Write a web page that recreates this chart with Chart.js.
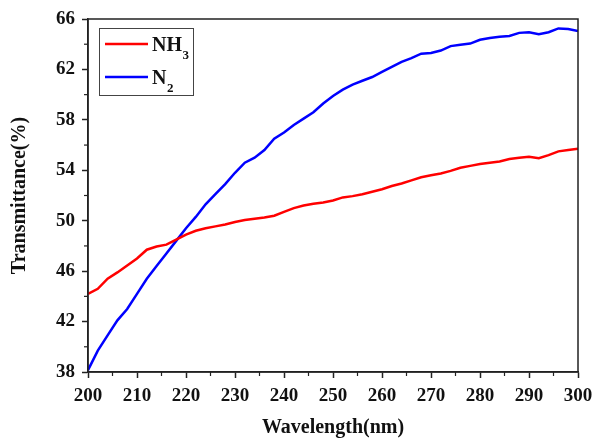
<!DOCTYPE html>
<html><head><meta charset="utf-8">
<script src="https://cdn.jsdelivr.net/npm/chart.js@4/dist/chart.umd.min.js"></script>
<style>html,body{margin:0;padding:0;background:#fff;}#wrap{width:595px;height:438px;}</style>
</head><body><div id="wrap"><canvas id="c" width="595" height="438"></canvas></div>
<script>
const wavelengths = [200,202,204,206,208,210,212,214,216,218,220,222,224,226,228,230,232,234,236,238,240,242,244,246,248,250,252,254,256,258,260,262,264,266,268,270,272,274,276,278,280,282,284,286,288,290,292,294,296,298,300];
const nh3 = [44.2,44.6,45.4,45.9,46.45,47.0,47.7,47.95,48.1,48.5,48.9,49.2,49.4,49.55,49.7,49.9,50.05,50.15,50.25,50.4,50.7,51.0,51.2,51.35,51.45,51.6,51.85,51.95,52.1,52.3,52.5,52.75,52.95,53.2,53.45,53.6,53.75,53.95,54.2,54.35,54.5,54.6,54.7,54.9,55.0,55.07,54.95,55.2,55.5,55.6,55.7];
const n2 = [38.15,39.7,40.9,42.1,43.0,44.2,45.4,46.4,47.4,48.4,49.4,50.3,51.3,52.1,52.9,53.8,54.6,55.0,55.6,56.5,57.0,57.6,58.1,58.6,59.3,59.9,60.4,60.8,61.1,61.4,61.8,62.2,62.6,62.9,63.25,63.3,63.5,63.85,63.95,64.05,64.35,64.5,64.6,64.65,64.9,64.95,64.8,64.95,65.25,65.2,65.05];
const seriesLabels = ['NH3','N2'];
const xTicks = [200,210,220,230,240,250,260,270,280,290,300];
const xMinor = [205,215,225,235,245,255,265,275,285,295];
const yTicks = [38,42,46,50,54,58,62,66];
const yMinor = [40,44,48,52,56,60,64];

const SERIF = '"Liberation Serif","Times New Roman",serif';
const AX = '#222';

const framePlugin = {
  id: 'frameAndLegend',
  afterDraw(chart) {
    const {ctx, chartArea: {left, right, top, bottom}, scales: {x, y}} = chart;
    ctx.save();
    ctx.strokeStyle = AX; ctx.lineWidth = 1.5;
    ctx.strokeRect(left, top, right - left, bottom - top);
    ctx.lineWidth = 1.2;
    xMinor.forEach(v => { const px = x.getPixelForValue(v); ctx.beginPath(); ctx.moveTo(px, bottom); ctx.lineTo(px, bottom + 4); ctx.stroke(); });
    yMinor.forEach(v => { const py = y.getPixelForValue(v); ctx.beginPath(); ctx.moveTo(left, py); ctx.lineTo(left - 4, py); ctx.stroke(); });
    // legend
    ctx.strokeStyle = '#444'; ctx.lineWidth = 1;
    ctx.strokeRect(99.5, 28.5, 94, 67);
    const rowsY = [44, 77];
    chart.data.datasets.forEach((ds, i) => {
      const yy = rowsY[i];
      ctx.strokeStyle = ds.borderColor; ctx.lineWidth = 2.5;
      ctx.beginPath(); ctx.moveTo(105, yy); ctx.lineTo(148, yy); ctx.stroke();
      const m = ds.label.match(/^(.*?)(\d+)$/);
      const main = m ? m[1] : ds.label, sub = m ? m[2] : '';
      ctx.fillStyle = '#111'; ctx.textBaseline = 'alphabetic'; ctx.textAlign = 'left';
      ctx.font = 'bold 20px ' + SERIF;
      ctx.fillText(main, 152, yy + 7);
      const w = ctx.measureText(main).width;
      ctx.font = 'bold 13px ' + SERIF;
      ctx.fillText(sub, 152 + w + 0.5, yy + 15);
    });
    ctx.restore();
  }
};

new Chart(document.getElementById('c'), {
  type: 'line',
  data: {
    datasets: [
      { label: seriesLabels[0], data: wavelengths.map((w, i) => ({x: w, y: nh3[i]})), borderColor: '#ff0000', backgroundColor: '#ff0000', borderWidth: 2.5, pointRadius: 0, tension: 0, fill: false },
      { label: seriesLabels[1], data: wavelengths.map((w, i) => ({x: w, y: n2[i]})), borderColor: '#0000ff', backgroundColor: '#0000ff', borderWidth: 2.5, pointRadius: 0, tension: 0, fill: false }
    ]
  },
  options: {
    responsive: false, devicePixelRatio: 1, animation: false,
    layout: { padding: { top: 19, right: 17, left: 0, bottom: 0 } },
    plugins: { legend: { display: false }, tooltip: { enabled: false } },
    scales: {
      x: {
        type: 'linear', position: 'bottom', min: 200, max: 300,
        afterBuildTicks: s => { s.ticks = xTicks.map(v => ({value: v})); },
        afterFit: s => { s.height = 66; s.paddingLeft = 0; s.paddingRight = 0; },
        grid: { drawOnChartArea: false, drawTicks: true, tickLength: 6, tickWidth: 1.5, tickColor: AX },
        border: { display: true, color: AX, width: 1.5 },
        ticks: { color: '#111', padding: 7, maxRotation: 0, autoSkip: false, font: { family: SERIF, size: 19, weight: 'bold' } },
        title: { display: true, text: 'Wavelength(nm)', color: '#111', padding: { top: 0, bottom: 0 }, font: { family: SERIF, size: 20, weight: 'bold', lineHeight: 1 } }
      },
      y: {
        type: 'linear', position: 'left', min: 38, max: 66,
        afterBuildTicks: s => { s.ticks = yTicks.map(v => ({value: v})); },
        afterFit: s => { s.width = 88; s.paddingTop = 0; s.paddingBottom = 0; },
        grid: { drawOnChartArea: false, drawTicks: true, tickLength: 6, tickWidth: 1.5, tickColor: AX },
        border: { display: true, color: AX, width: 1.5 },
        ticks: { color: '#111', padding: 7, autoSkip: false, font: { family: SERIF, size: 19, weight: 'bold' } },
        title: { display: true, text: 'Transmittance(%)', color: '#111', padding: { top: 10, bottom: 0 }, font: { family: SERIF, size: 20, weight: 'bold', lineHeight: 1 } }
      }
    }
  },
  plugins: [framePlugin]
});
</script>
</body></html>
